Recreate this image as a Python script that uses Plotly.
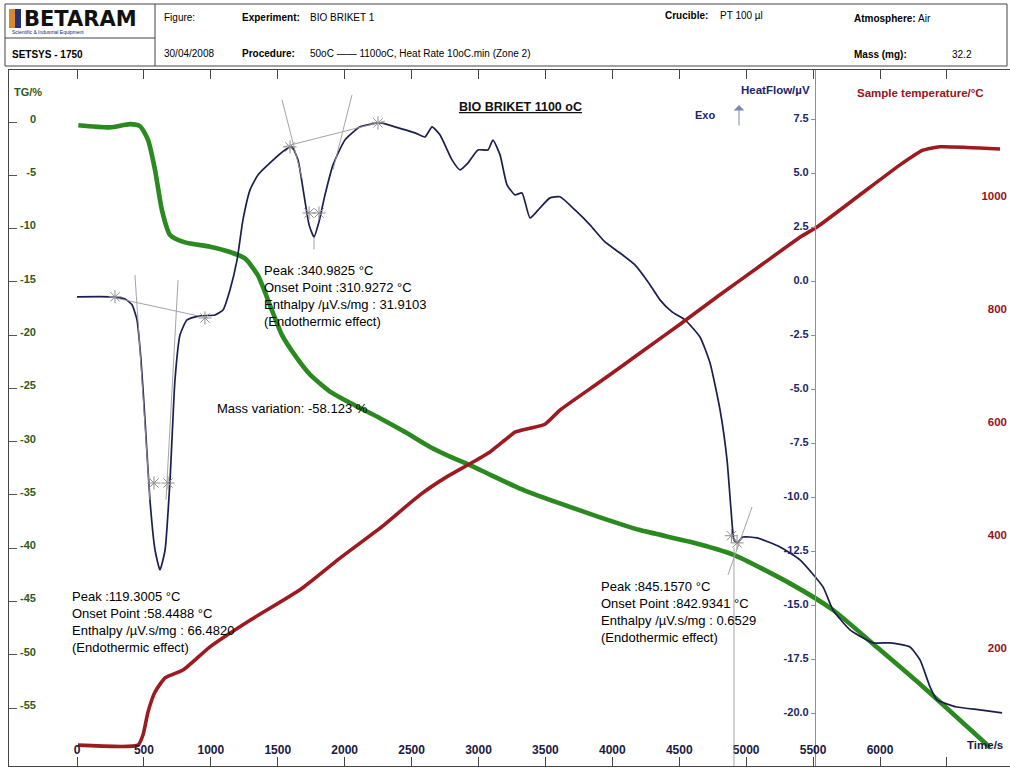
import plotly.graph_objects as go

# ---------------------------------------------------------------- data
# TG curve (mass change, %) against time (s)
tg_time = [10, 247, 396, 471, 531, 583, 635, 695, 807, 994, 1143, 1255, 1352, 1442,
           1532, 1629, 1741, 1890, 2077, 2264, 2451, 2638, 2787, 2936, 3086, 3310,
           3609, 3908, 4207, 4580, 4902, 5327, 5649, 5978, 6321, 6822]
tg_pct = [-0.3, -0.5, -0.2, -0.4, -1.7, -4.5, -8.3, -10.6, -11.3, -11.7, -12.2, -12.8,
          -14.4, -17.2, -20.0, -21.9, -23.7, -25.3, -26.6, -27.8, -29.1, -30.5, -31.4,
          -32.2, -33.1, -34.4, -35.8, -37.1, -38.3, -39.4, -40.6, -43.3, -45.8, -49.3,
          -53.0, -58.7]

# heat-flow curve (µV) against time (s)
hf_time = [0, 247, 359, 411, 448, 478, 508, 545, 583, 620, 658, 695, 732, 770, 822, 919,
           1031, 1091, 1143, 1196, 1240, 1293, 1352, 1442, 1554, 1606, 1651, 1696, 1734,
           1771, 1808, 1853, 1913, 2002, 2115, 2264, 2376, 2526, 2600, 2653, 2712, 2802,
           2862, 2922, 2996, 3071, 3108, 3161, 3213, 3273, 3325, 3385, 3460, 3534, 3609,
           3721, 3833, 3945, 4057, 4169, 4267, 4356, 4446, 4543, 4655, 4730, 4805, 4857,
           4887, 4909, 4932, 4976, 5081, 5253, 5402, 5574, 5649, 5776, 5948, 6075, 6224,
           6299, 6374, 6426, 6575, 6747, 6912]
hf_uv = [-0.69, -0.69, -0.79, -1.06, -1.76, -3.61, -6.39, -10.09, -12.41, -13.33, -12.41,
         -9.17, -4.54, -2.45, -1.76, -1.57, -1.53, -1.30, -0.37, 1.02, 2.87, 4.26, 4.95,
         5.51, 6.11, 6.25, 5.65, 4.03, 2.64, 2.08, 2.78, 4.03, 5.42, 6.57, 7.18, 7.36,
         7.18, 6.90, 6.71, 7.18, 6.81, 5.65, 5.19, 5.51, 6.11, 6.11, 6.57, 5.88, 4.49,
         4.03, 4.12, 2.96, 3.43, 3.89, 3.94, 3.33, 2.64, 1.85, 1.34, 0.79, 0.00, -0.83,
         -1.39, -1.76, -2.55, -3.75, -5.93, -8.24, -10.56, -11.94, -12.08, -11.81, -11.85,
         -12.27, -12.87, -14.12, -15.19, -16.11, -16.71, -16.71, -16.90, -17.50, -18.75,
         -19.35, -19.68, -19.81, -19.95]

# sample temperature (°C) against time (s)
temp_time = [7, 456, 493, 531, 583, 658, 792, 994, 1293, 1666, 1965, 2264, 2563, 2750,
             2936, 3086, 3198, 3273, 3385, 3497, 3609, 3908, 4207, 4506, 4804, 5103,
             5402, 5529, 5851, 6150, 6321, 6448, 6897]
temp_c = [44, 44, 62, 103, 138, 163, 177, 218, 265, 319, 375, 428, 487, 517, 542, 563,
          584, 598, 605, 612, 637, 687, 738, 789, 841, 892, 943, 961, 1018, 1071, 1097,
          1103, 1099]

# peak-evaluation construction points on the heat-flow curve (time s, µV)
mark_time = [284, 956, 575, 680, 1592, 2249, 1734, 1808, 4932, 4890]
mark_uv = [-0.69, -1.67, -9.31, -9.31, 6.25, 7.36, 3.19, 3.19, -12.08, -11.75]

# (t0, v0, t1, v1) baselines and tangents of the evaluated peaks
construction_lines = [
    (247, -0.69, 979, -1.67),
    (433, 0.32, 545, -10.09),
    (755, 0.09, 665, -10.09),
    (1539, 6.25, 2301, 7.45),
    (1532, 8.43, 1681, 4.81),
    (2055, 8.66, 1913, 5.19),
    (1771, 2.08, 1771, 1.50),
    (4909, -12.30, 4909, -22.41),
    (4864, -13.56, 5044, -10.42),
]

# tick values and labels
time_ticks = [0, 500, 1000, 1500, 2000, 2500, 3000, 3500, 4000, 4500, 5000, 5500, 6000, 6500]
time_tick_text = [str(v) for v in time_ticks[:-1]] + [""]
tg_ticks = [0, -5, -10, -15, -20, -25, -30, -35, -40, -45, -50, -55]
tg_tick_text = [str(v) for v in tg_ticks]
hf_ticks = [7.5, 5.0, 2.5, 0.0, -2.5, -5.0, -7.5, -10.0, -12.5, -15.0, -17.5, -20.0]
hf_tick_text = [f"{v:.1f}" for v in hf_ticks]
temp_ticks = [200, 400, 600, 800, 1000]
temp_tick_text = [str(v) for v in temp_ticks]

# ---------------------------------------------------------------- geometry
W, H = 1010, 771
L, R, T, B = 8, 1010, 70, 766          # plot-area edges in px


def px(x):
    return (x - L) / (R - L)


def py(y):
    return (B - y) / (B - T)


time_range = [-515.6, 6971.4]
tg_range = [-60.44, 4.88]
hf_range = [-22.41, 9.81]
temp_range = [7.08, 1238.9]

FONT = "Liberation Sans, Arial, sans-serif"
NAVY = "#1c2568"
DARK_RED = "#9a1220"
OLIVE = "#2f5a17"

fig = go.Figure()

fig.add_trace(go.Scatter(
    x=temp_time, y=temp_c, yaxis="y3", mode="lines", hoverinfo="skip",
    line=dict(color="#9c1a20", width=3.6, shape="spline", smoothing=0.5)))
fig.add_trace(go.Scatter(
    x=tg_time, y=tg_pct, yaxis="y", mode="lines", hoverinfo="skip",
    line=dict(color="#2b8a1f", width=4.6, shape="spline", smoothing=0.6)))
fig.add_trace(go.Scatter(
    x=tg_time, y=tg_pct, yaxis="y4", mode="lines", hoverinfo="skip",
    line=dict(color="rgba(0,0,0,0)", width=0)))
fig.add_trace(go.Scatter(
    x=hf_time, y=hf_uv, yaxis="y2", mode="lines", hoverinfo="skip",
    line=dict(color="#1b1f4d", width=1.7, shape="spline", smoothing=0.5)))
fig.add_trace(go.Scatter(
    x=mark_time, y=mark_uv, yaxis="y2", mode="markers", hoverinfo="skip",
    marker=dict(symbol="asterisk-open", size=11, color="#8e8e8e",
                line=dict(color="#8e8e8e", width=1))))

shapes = []
for t0, v0, t1, v1 in construction_lines:
    shapes.append(dict(type="line", xref="x", yref="y2", x0=t0, y0=v0, x1=t1, y1=v1,
                       line=dict(color="#9a9a9a", width=0.9)))

# header table
hdr = dict(type="line", xref="paper", yref="paper", line=dict(color="#444", width=1))
shapes += [
    dict(type="rect", xref="paper", yref="paper", x0=px(5), x1=px(1007), y0=py(4), y1=py(66),
         line=dict(color="#444", width=1)),
    dict(hdr, x0=px(155), x1=px(155), y0=py(4), y1=py(66)),
    dict(hdr, x0=px(5), x1=px(155), y0=py(38), y1=py(38)),
    dict(type="rect", xref="paper", yref="paper", x0=px(9), x1=px(15), y0=py(9), y1=py(28),
         fillcolor="#d9892c", line=dict(width=0)),
    dict(type="rect", xref="paper", yref="paper", x0=px(15), x1=px(21), y0=py(9), y1=py(28),
         fillcolor="#26337c", line=dict(width=0)),
]

ann = []


def note(x, y, text, size=10, color="black", bold=False, xanchor="left"):
    if bold:
        text = f"<b>{text}</b>"
    ann.append(dict(x=px(x), y=py(y), xref="paper", yref="paper", text=text,
                    showarrow=False, xanchor=xanchor, yanchor="middle", align="left",
                    font=dict(family=FONT, size=size, color=color)))


# header text
ann.append(dict(x=px(22), y=py(19), xref="paper", yref="paper", text="<b>BETARAM</b>",
                showarrow=False, xanchor="left", yanchor="middle",
                font=dict(family="DejaVu Sans, sans-serif", size=21, color="#111")))
note(10, 32, "Scientific &amp; Industrial Equipment", size=5, color=NAVY)
note(10, 55, "SETSYS - 1750", size=10, bold=True)
note(162, 17, "Figure:", size=10)
note(162, 53, "30/04/2008", size=10)
note(240, 17, "Experiment:", size=10, bold=True)
note(308, 17, "BIO BRIKET 1", size=10)
note(240, 53, "Procedure:", size=10, bold=True)
note(308, 53, "50oC —— 1100oC, Heat Rate 10oC.min (Zone 2)", size=10)
note(663, 16, "Crucible:", size=10, bold=True)
note(718, 16, "PT 100 µl", size=10)
note(852, 18, "Atmosphere:", size=10, bold=True)
note(916, 18, "Air", size=10)
note(852, 54, "Mass (mg):", size=10, bold=True)
note(950, 54, "32.2", size=10)

# chart titles
note(12, 92, "TG/%", size=11, color=OLIVE, bold=True)
note(812, 90, "HeatFlow/µV", size=11.5, color=NAVY, bold=True, xanchor="right")
note(693, 115, "Exo", size=11, color=NAVY, bold=True)
note(855, 93, "Sample temperature/°C", size=11.5, color=DARK_RED, bold=True)
note(457, 107, "<u><b>BIO BRIKET 1100 oC</b></u>", size=12.5, color="#111")
note(1005, 745, "Time/s", size=11.5, color="#1a1a40", bold=True, xanchor="right")
ann.append(dict(x=px(739), y=py(105), ax=0, ay=22, xref="paper", yref="paper",
                text="", showarrow=True, arrowhead=1, arrowsize=1.8, arrowwidth=1,
                arrowcolor="#7d88b3"))

# peak evaluation results
note(262, 296, "Peak :340.9825 °C<br>Onset Point :310.9272 °C<br>"
               "Enthalpy /µV.s/mg : 31.9103<br>(Endothermic effect)", size=13)
note(215, 408, "Mass variation: -58.123 %", size=13)
note(70, 622, "Peak :119.3005 °C<br>Onset Point :58.4488 °C<br>"
              "Enthalpy /µV.s/mg : 66.4820<br>(Endothermic effect)", size=13)
note(599, 612, "Peak :845.1570 °C<br>Onset Point :842.9341 °C<br>"
               "Enthalpy /µV.s/mg : 0.6529<br>(Endothermic effect)", size=13)

fig.update_layout(
    width=W, height=H,
    margin=dict(l=L, r=W - R, t=T, b=H - B),
    paper_bgcolor="white", plot_bgcolor="white",
    showlegend=False,
    font=dict(family=FONT),
    shapes=shapes, annotations=ann,
    xaxis=dict(
        domain=[0, 1], range=time_range, tickvals=time_ticks, ticktext=time_tick_text,
        ticks="inside", ticklen=9, tickcolor="#444", ticklabelposition="inside",
        showline=True, linecolor="#444", linewidth=1, mirror="ticks",
        showgrid=False, zeroline=False, automargin=False,
        tickfont=dict(family=FONT, size=12, color="#1a1a40", weight="bold")),
    yaxis=dict(
        range=tg_range, anchor="free", position=px(36), side="left",
        tickvals=tg_ticks, ticktext=tg_tick_text, ticks="", showline=False,
        ticklabelshift=-3,
        showgrid=False, zeroline=False, automargin=False,
        tickfont=dict(family=FONT, size=11, color=OLIVE, weight="bold")),
    yaxis4=dict(
        range=tg_range, overlaying="y", anchor="free", position=0, side="left",
        tickvals=tg_ticks, ticks="inside", ticklen=8, tickcolor="#555",
        showticklabels=False, showline=True, linecolor="#444", linewidth=1,
        showgrid=False, zeroline=False, automargin=False),
    yaxis2=dict(
        range=hf_range, overlaying="y", anchor="free", position=px(815), side="left",
        tickvals=hf_ticks, ticktext=hf_tick_text, ticks="outside", ticklen=4,
        tickcolor="#7f8fb5", showline=True, linecolor="#7f8fb5", linewidth=1.2,
        ticklabelshift=-2,
        showgrid=False, zeroline=False, automargin=False,
        tickfont=dict(family=FONT, size=11, color=NAVY, weight="bold")),
    yaxis3=dict(
        range=temp_range, overlaying="y", anchor="free", position=1, side="right",
        tickvals=temp_ticks, ticktext=temp_tick_text, ticks="",
        ticklabelposition="inside", showline=False, ticklabelshift=-9,
        showgrid=False, zeroline=False, automargin=False,
        tickfont=dict(family=FONT, size=11.5, color=DARK_RED, weight="bold")),
)

fig.write_html("out.html")
